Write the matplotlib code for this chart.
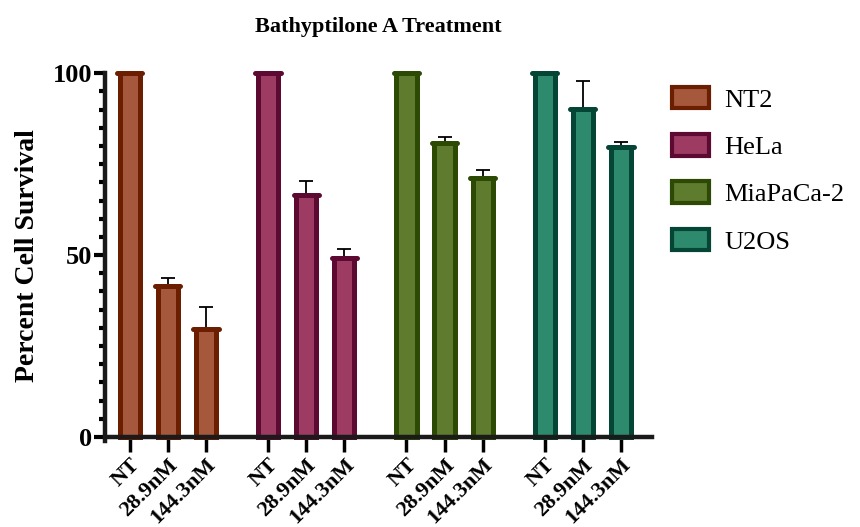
import matplotlib
matplotlib.use("Agg")
import matplotlib.pyplot as plt
import matplotlib.ticker as mtick
import matplotlib.font_manager as fm
from matplotlib.patches import Patch

# make sure a Times-like serif is registered
serif_name = 'DejaVu Serif'
for f in fm.findSystemFonts():
    if 'liberationserif' in f.lower().replace('-', '').replace('_', ''):
        fm.fontManager.addfont(f)
        serif_name = fm.FontProperties(fname=f).get_name()
plt.rcParams['font.family'] = [serif_name, 'DejaVu Serif']

cell_lines = ['NT2', 'HeLa', 'MiaPaCa-2', 'U2OS']
doses = ['NT', '28.9nM', '144.3nM']
survival = {
    'NT2': [100, 41.4, 29.6],
    'HeLa': [100, 66.5, 49.1],
    'MiaPaCa-2': [100, 80.9, 71.2],
    'U2OS': [100, 90.2, 79.8],
}
err_up = {
    'NT2': [0, 2.2, 6.1],
    'HeLa': [0, 3.9, 2.5],
    'MiaPaCa-2': [0, 1.7, 2.2],
    'U2OS': [0, 7.8, 1.4],
}
fill_colors = ['#A6583C', '#9E3B62', '#5F7B2D', '#2E8A6C']
edge_colors = ['#6B1E00', '#5C0A32', '#2D4A05', '#054535']

fig = plt.figure(figsize=(8.6, 5.27), dpi=100)
ax = fig.add_axes([0.122, 0.171, 0.636, 0.690])

group_gap = 3.63
ticks = []
labels = []
for g, name in enumerate(cell_lines):
    xs = [g * group_gap + i for i in range(len(doses))]
    ax.errorbar(xs, survival[name], yerr=[[0] * 3, err_up[name]], fmt='none',
                ecolor='black', elinewidth=1.3, capsize=4.8, capthick=1.3,
                zorder=1, clip_on=False)
    ax.bar(xs, survival[name], width=0.53, color=fill_colors[g],
           edgecolor=edge_colors[g], linewidth=3.6, zorder=2, clip_on=False)
    # thick rounded cap on top of each bar
    ax.hlines(survival[name], [x - 0.33 for x in xs], [x + 0.33 for x in xs],
              colors=edge_colors[g], linewidth=3.6, capstyle='round', zorder=3,
              clip_on=False)
    ticks += xs
    labels += doses

ax.set_xlim(-0.65, 3 * group_gap + 2 + 0.81)
ax.set_ylim(0, 100)
ax.set_xticks(ticks)
ax.set_xticklabels(labels, rotation=45, ha='right', va='top',
                   rotation_mode='anchor', fontsize=16, fontweight='bold')
ax.set_yticks([0, 50, 100])
ax.yaxis.set_minor_locator(mtick.MultipleLocator(5))
ax.tick_params(axis='y', which='major', length=8, width=3, labelsize=19, pad=1)
ax.tick_params(axis='y', which='minor', length=4.5, width=3)
ax.tick_params(axis='x', length=11, width=2.5, pad=2)
for lab in ax.get_yticklabels():
    lab.set_fontweight('bold')

for s in ['top', 'right']:
    ax.spines[s].set_visible(False)
for s in ['left', 'bottom']:
    ax.spines[s].set_linewidth(3.2)
    ax.spines[s].set_color('#1a1a1a')
ax.spines['left'].set_bounds(-1.2, 100)

ax.set_ylabel('Percent Cell Survival', fontsize=20, fontweight='bold', labelpad=9)
ax.set_title('Bathyptilone A Treatment', fontsize=16, fontweight='bold', pad=30)

handles = [Patch(facecolor=fill_colors[i], edgecolor=edge_colors[i], linewidth=3)
           for i in range(len(cell_lines))]
fig.legend(handles, cell_lines, loc='upper left', bbox_to_anchor=(0.781, 0.835),
           frameon=False, fontsize=19, handlelength=1.4, handleheight=0.87,
           labelspacing=0.85, handletextpad=0.6, borderpad=0, borderaxespad=0)

fig.savefig('out.png', dpi=100)
